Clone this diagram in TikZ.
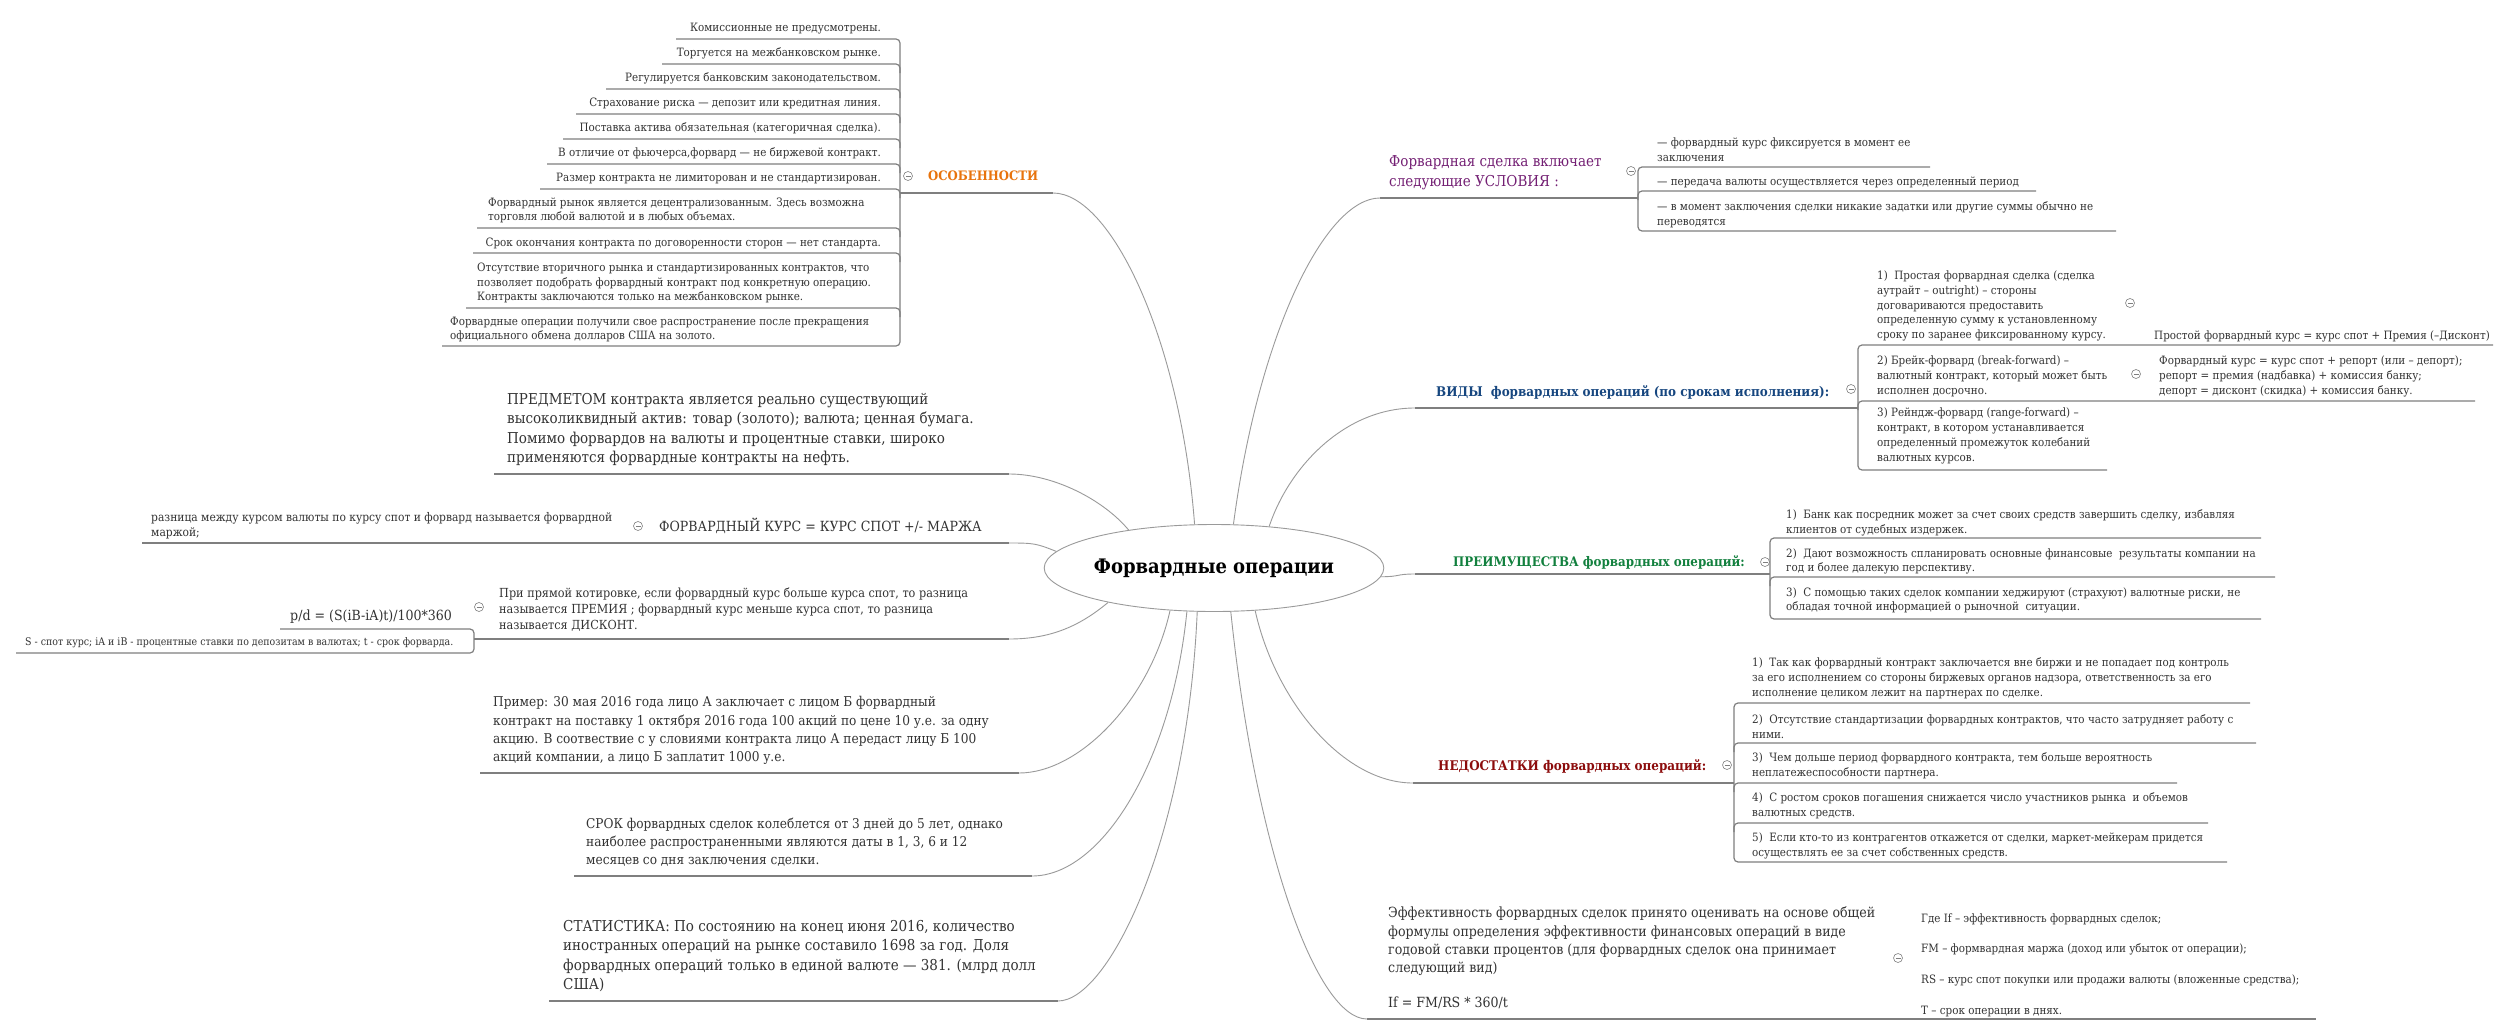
\documentclass[tikz,border=0pt]{standalone}
\usepackage{fontspec}
\setmainfont{DejaVu Serif Condensed}
\usetikzlibrary{shapes.geometric}
\definecolor{ink}     {HTML}{333333}
\definecolor{linegray}{HTML}{9A9A9A}
\definecolor{ulgray}  {HTML}{7F7F7F}
\definecolor{orange}  {HTML}{E8730C}
\definecolor{purple}  {HTML}{742074}
\definecolor{blue}    {HTML}{16467F}
\definecolor{green}   {HTML}{12803E}
\definecolor{red}     {HTML}{8C0C0C}
\tikzset{
  root/.style  = {ellipse, draw=linegray, line width=0.9pt, fill=white,
                  minimum width=319pt, minimum height=87pt, inner sep=0pt,
                  font=\fontsize{20}{24}\selectfont\bfseries, text=black},
  item/.style  = {inner sep=0pt, align=left, text=ink,
                  font=\fontsize{11.5}{14.8}\selectfont},
  tiny/.style  = {item, font=\fontsize{10.5}{12}\selectfont},
  note/.style  = {item, font=\fontsize{13.5}{18.2}\selectfont},
  big/.style   = {item, font=\fontsize{15}{19.3}\selectfont},
  head/.style  = {inner sep=0pt, font=\fontsize{13.3}{17}\selectfont\bfseries},
  link/.style  = {draw=linegray, line width=0.9pt},
  uline/.style = {draw=ulgray, line width=1.2pt},
  brk/.style   = {uline, rounded corners=4pt},
  fold/.style  = {circle, draw=ulgray, line width=0.6pt, fill=white,
                  minimum size=9pt, inner sep=0pt,
                  path picture={\draw[ulgray, line width=0.6pt]
                    ([xshift=2pt]path picture bounding box.west) --
                    ([xshift=-2pt]path picture bounding box.east);}},
}
\begin{document}
\begin{tikzpicture}[x=1pt, y=-1pt]
  \path[fill=white, use as bounding box] (0,0) rectangle (2520,1036);

  % centre
  \node[root] (root) at (1214,568) {Форвардные операции};

  % ---------------- left: ОСОБЕННОСТИ
  \node[head, text=orange, font=\fontsize{13}{17}\selectfont\bfseries, anchor=west]
    (osob) at (928,176) {ОСОБЕННОСТИ};
  \node[fold] (osobF) at (908,176) {};
  \coordinate (osobE) at (1053,193);
  \node[item, anchor=east] (os1) at (881,29) {Комиссионные не предусмотрены.};
  \node[item, anchor=east] (os2) at (881,53) {Торгуется на межбанковском рынке.};
  \node[item, anchor=east] (os3) at (881,78) {Регулируется банковским законодательством.};
  \node[item, anchor=east] (os4) at (881,103) {Страхование риска — депозит или кредитная линия.};
  \node[item, anchor=east] (os5) at (881,128) {Поставка актива обязательная (категоричная сделка).};
  \node[item, anchor=east] (os6) at (881,153) {В отличие от фьючерса,форвард — не биржевой контракт.};
  \node[item, anchor=east] (os7) at (881,179) {Размер контракта не лимиторован и не стандартизирован.};
  \node[item, anchor=west] (os8) at (488,210.5)
    {Форвардный рынок является децентрализованным. Здесь возможна\\
     торговля любой валютой и в любых объемах.};
  \node[item, anchor=east] (os9) at (881,243)
    {Срок окончания контракта по договоренности сторон — нет стандарта.};
  \node[item, anchor=west] (os10) at (477,283)
    {Отсутствие вторичного рынка и стандартизированных контрактов, что\\
     позволяет подобрать форвардный контракт под конкретную операцию.\\
     Контракты заключаются только на межбанковском рынке.};
  \node[item, anchor=west] (os11) at (450,329.5)
    {Форвардные операции получили свое распространение после прекращения\\
     официального обмена долларов США на золото.};
  \draw[brk] (676,39) -- (900,39) -- (900,346) -- (442,346);
  \foreach \xl/\yu in {662/64, 606/89, 576/114, 563/139, 547/164,
                       540/189, 477/228, 473/253, 466/308}
    \draw[brk] (\xl,\yu) -- (900,\yu) -- (900,\yu+9);
  \draw[uline] (900,193) -- (osobE);
  \draw[link] (root.114) .. controls +(-14,-185) and +(58,0) .. (osobE);

  % ---------------- left: ПРЕДМЕТОМ
  \node[big, anchor=west] (subj) at (507,429.5)
    {ПРЕДМЕТОМ контракта является реально существующий\\
     высоколиквидный актив: товар (золото); валюта; ценная бумага.\\
     Помимо форвардов на валюты и процентные ставки, широко\\
     применяются форвардные контракты на нефть.};
  \coordinate (subjE) at (1009,474);
  \draw[uline] (494,474) -- (subjE);
  \draw[link] (root.156) .. controls +(-25,-30) and +(45,0) .. (subjE);

  % ---------------- left: ФОРВАРДНЫЙ КУРС
  \node[item, font=\fontsize{14}{17}\selectfont, anchor=west] (rate) at (659,526)
    {ФОРВАРДНЫЙ КУРС = КУРС СПОТ +/- МАРЖА};
  \node[fold] (rateF) at (638,526) {};
  \node[item, font=\fontsize{11.9}{15}\selectfont, anchor=west] (marg) at (151,526)
    {разница между курсом валюты по курсу спот и форвард называется форвардной\\
     маржой;};
  \coordinate (rateE) at (1009,543);
  \draw[uline] (142,543) -- (rateE);
  \draw[link] (root.174) .. controls +(-20,-8) and +(25,0) .. (rateE);

  % ---------------- left: премия / дисконт
  \node[item, font=\fontsize{12.5}{16}\selectfont, anchor=west] (prem) at (499,609.5)
    {При прямой котировке, если форвардный курс больше курса спот, то разница\\
     называется ПРЕМИЯ ; форвардный курс меньше курса спот, то разница\\
     называется ДИСКОНТ.};
  \node[fold] (premF) at (479,607) {};
  \node[item, font=\fontsize{14}{17}\selectfont, anchor=west] (pd) at (290,617)
    {p/d = (S(iB-iA)t)/100*360};
  \node[tiny, anchor=west] (pdnote) at (25,643)
    {S - спот курс; iA и iB - процентные ставки по депозитам в валютах; t - срок форварда.};
  \coordinate (premE) at (1009,639);
  \draw[brk] (280,629) -- (474,629) -- (474,653) -- (16,653);
  \draw[uline] (474,639) -- (premE);
  \draw[link] (root.198) .. controls +(-30,25) and +(40,0) .. (premE);

  % ---------------- left: пример
  \node[note, anchor=west] (expl) at (493,730.5)
    {Пример: 30 мая 2016 года лицо А заключает с лицом Б форвардный\\
     контракт на поставку 1 октября 2016 года 100 акций по цене 10 у.е. за одну\\
     акцию. В соотвествие с у словиями контракта лицо А передаст лицу Б 100\\
     акций компании, а лицо Б заплатит 1000 у.е.};
  \coordinate (explE) at (1019,773);
  \draw[uline] (480,773) -- (explE);
  \draw[link] (root.224) .. controls +(-20,90) and +(60,0) .. (explE);

  % ---------------- left: срок
  \node[note, anchor=west] (term) at (586,842)
    {СРОК форвардных сделок колеблется от 3 дней до 5 лет, однако\\
     наиболее распространенными являются даты в 1, 3, 6 и 12\\
     месяцев со дня заключения сделки.};
  \coordinate (termE) at (1032,876);
  \draw[uline] (574,876) -- (termE);
  \draw[link] (root.238) .. controls +(-15,150) and +(70,0) .. (termE);

  % ---------------- left: статистика
  \node[big, anchor=west] (stat) at (563,956)
    {СТАТИСТИКА: По состоянию на конец июня 2016, количество\\
     иностранных операций на рынке составило 1698 за год. Доля\\
     форвардных операций только в единой валюте — 381. (млрд долл\\
     США)};
  \coordinate (statE) at (1058,1001);
  \draw[uline] (549,1001) -- (statE);
  \draw[link] (root.249) .. controls +(-10,230) and +(50,0) .. (statE);

  % ---------------- right: УСЛОВИЯ
  \node[big, text=purple, font=\fontsize{15}{20}\selectfont, anchor=west] (cond) at (1389,173)
    {Форвардная сделка включает\\следующие УСЛОВИЯ :};
  \node[fold] (condF) at (1631,171) {};
  \node[item, anchor=west] (c1) at (1657,149.5)
    {— форвардный курс фиксируется в момент ее\\заключения};
  \node[item, anchor=west] (c2) at (1657,182)
    {— передача валюты осуществляется через определенный период};
  \node[item, anchor=west] (c3) at (1657,214.5)
    {— в момент заключения сделки никакие задатки или другие суммы обычно не\\переводятся};
  \coordinate (condE) at (1380,198);
  \draw[brk] (1930,167) -- (1638,167) -- (1638,231) -- (2116,231);
  \draw[brk] (2036,191) -- (1638,191) -- (1638,200);
  \draw[uline] (condE) -- (1638,198);
  \draw[link] (root.66) .. controls +(25,-190) and +(-55,0) .. (condE);

  % ---------------- right: ВИДЫ
  \node[head, text=blue, anchor=west] (kind) at (1436,392)
    {ВИДЫ \ форвардных операций (по срокам исполнения):};
  \node[fold] (kindF) at (1851,389) {};
  \node[item, anchor=west] (k1) at (1877,306)
    {1) \ Простая форвардная сделка (сделка\\
     аутрайт – outright) – стороны\\
     договариваются предоставить\\
     определенную сумму к установленному\\
     сроку по заранее фиксированному курсу.};
  \node[fold] (k1F) at (2130,303) {};
  \node[item, anchor=west] (k1s) at (2154,336)
    {Простой форвардный курс = курс спот + Премия (–Дисконт)};
  \node[item, anchor=west] (k2) at (1877,376.5)
    {2) Брейк-форвард (break-forward) –\\
     валютный контракт, который может быть\\
     исполнен досрочно.};
  \node[fold] (k2F) at (2136,374) {};
  \node[item, anchor=west] (k2s) at (2159,376.5)
    {Форвардный курс = курс спот + репорт (или – депорт);\\
     репорт = премия (надбавка) + комиссия банку;\\
     депорт = дисконт (скидка) + комиссия банку.};
  \node[item, anchor=west] (k3) at (1877,436)
    {3) Рейндж-форвард (range-forward) –\\
     контракт, в котором устанавливается\\
     определенный промежуток колебаний\\
     валютных курсов.};
  \coordinate (kindE) at (1415,408);
  \draw[brk] (2493,345) -- (1858,345) -- (1858,470) -- (2107,470);
  \draw[brk] (2475,401) -- (1858,401) -- (1858,410);
  \draw[uline] (kindE) -- (1858,408);
  \draw[link] (root.37) .. controls +(20,-60) and +(-70,0) .. (kindE);

  % ---------------- right: ПРЕИМУЩЕСТВА
  \node[head, text=green, font=\fontsize{13.2}{17}\selectfont\bfseries, anchor=west]
    (pros) at (1453,562) {ПРЕИМУЩЕСТВА форвардных операций:};
  \node[fold] (prosF) at (1765,562) {};
  \node[item, anchor=west] (p1) at (1786,522.5)
    {1) \ Банк как посредник может за счет своих средств завершить сделку, избавляя\\
     клиентов от судебных издержек.};
  \node[item, anchor=west] (p2) at (1786,561.5)
    {2) \ Дают возможность спланировать основные финансовые \ результаты компании на\\
     год и более далекую перспективу.};
  \node[item, anchor=west] (p3) at (1786,600.5)
    {3) \ С помощью таких сделок компании хеджируют (страхуют) валютные риски, не\\
     обладая точной информацией о рыночной \ ситуации.};
  \coordinate (prosE) at (1415,574);
  \draw[brk] (2261,538) -- (1770,538) -- (1770,619) -- (2261,619);
  \draw[brk] (2275,577) -- (1770,577) -- (1770,586);
  \draw[uline] (prosE) -- (1770,574);
  \draw[link] (root.357) .. controls +(20,0) and +(-20,0) .. (prosE);

  % ---------------- right: НЕДОСТАТКИ
  \node[head, text=red, anchor=west] (cons) at (1438,766)
    {НЕДОСТАТКИ форвардных операций:};
  \node[fold] (consF) at (1727,765) {};
  \node[item, anchor=west] (n1) at (1752,678.5)
    {1) \ Так как форвардный контракт заключается вне биржи и не попадает под контроль\\
     за его исполнением со стороны биржевых органов надзора, ответственность за его\\
     исполнение целиком лежит на партнерах по сделке.};
  \node[item, anchor=west] (n2) at (1752,726.5)
    {2) \ Отсутствие стандартизации форвардных контрактов, что часто затрудняет работу с\\
     ними.};
  \node[item, anchor=west] (n3) at (1752,765.5)
    {3) \ Чем дольше период форвардного контракта, тем больше вероятность\\
     неплатежеспособности партнера.};
  \node[item, anchor=west] (n4) at (1752,805.5)
    {4) \ С ростом сроков погашения снижается число участников рынка \ и объемов\\
     валютных средств.};
  \node[item, anchor=west] (n5) at (1752,846)
    {5) \ Если кто-то из контрагентов откажется от сделки, маркет-мейкерам придется\\
     осуществлять ее за счет собственных средств.};
  \coordinate (consE) at (1413,783);
  \draw[brk] (2250,703) -- (1734,703) -- (1734,862) -- (2227,862);
  \foreach \xr/\yu in {2256/743, 2177/783, 2208/823}
    \draw[brk] (\xr,\yu) -- (1734,\yu) -- (1734,\yu+9);
  \draw[uline] (consE) -- (1734,783);
  \draw[link] (root.314) .. controls +(20,90) and +(-70,0) .. (consE);

  % ---------------- right: эффективность
  \node[note, font=\fontsize{14}{18.3}\selectfont, anchor=west] (eff) at (1388,958)
    {Эффективность форвардных сделок принято оценивать на основе общей\\
     формулы определения эффективности финансовых операций в виде\\
     годовой ставки процентов (для форвардных сделок она принимает\\
     следующий вид)\\[16.7pt]
     If = FM/RS * 360/t};
  \node[fold] (effF) at (1898,958) {};
  \node[item, font=\fontsize{11.5}{30.7}\selectfont, anchor=west] (effs) at (1921,965)
    {Где If – эффективность форвардных сделок;\\
     FM – формвардная маржа (доход или убыток от операции);\\
     RS – курс спот покупки или продажи валюты (вложенные средства);\\
     T – срок операции в днях.};
  \coordinate (effE) at (1367,1019);
  \draw[uline] (effE) -- (2316,1019);
  \draw[link] (root.291) .. controls +(25,240) and +(-50,0) .. (effE);

\end{tikzpicture}
\end{document}
